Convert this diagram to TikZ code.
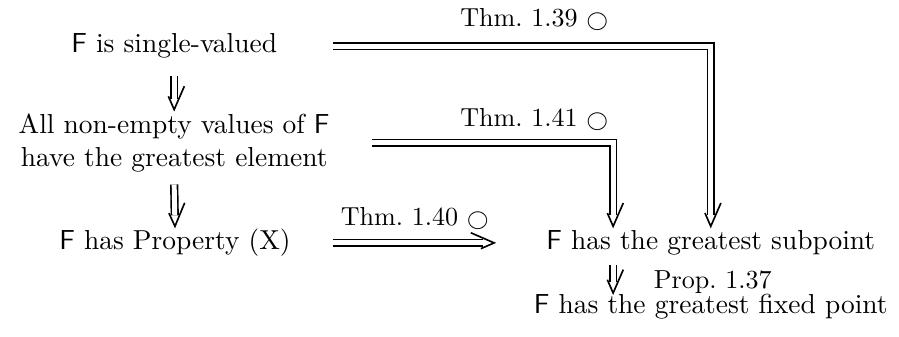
\documentclass[tikz,border=0pt]{standalone}
\usepackage{amsmath,amssymb}
\usetikzlibrary{calc,decorations.markings}
\newcommand{\sF}{\mathsf{F}}
\newcommand{\thmmark}{$\scriptstyle\bigcirc$}

\begin{document}
\begin{tikzpicture}[imp/.style={double, double distance=1.8pt, line width=0.6pt, shorten >=4pt,
    postaction={decorate, decoration={markings, mark=at position 1 with
      {\draw[line width=0.6pt, line join=miter] (-8.5pt,3.7pt) -- (0,0) -- (-8.5pt,-3.7pt);}}}},
  lbl/.style={font=\fontsize{9.5pt}{11pt}\selectfont, inner sep=1pt}]
  \useasboundingbox (0,0) rectangle (11.51,4.31);
  % ---------------------------------------------------------------- left column: what is assumed
  \node (single) at (2.23,3.72) {$\sF$ is single-valued};
  \node[align=center] (nonempty) at (2.23,2.48) {All non-empty values of $\sF$\\ have the greatest element};
  \node (propx) at (2.24,1.20) {$\sF$ has Property (X)};
  % ---------------------------------------------------------------- right column: what follows
  \node (subpoint) at (9.10,1.20) {$\sF$ has the greatest subpoint};
  \node (fixed) at (9.10,0.38) {$\sF$ has the greatest fixed point};
  \coordinate (lane) at (7.85,0);
  % the implications, with where they are proved
  \draw[imp] ([yshift=-3pt]single.south) -- ([yshift=-2pt]nonempty.north);
  \draw[imp] ([yshift=-1pt]nonempty.south) -- ([yshift=-2.5pt]propx.north);
  \draw[imp] ([xshift=17pt]single.east) -| ([yshift=-2pt]subpoint.north);
  \node[lbl] (t39) at (6.84,4.06) {Thm.~1.39 \thmmark};
  \draw[imp] ([xshift=12pt]nonempty.east) -| ($(lane |- subpoint.north)+(0,-2pt)$);
  \node[lbl] (t41) at (6.84,2.78) {Thm.~1.41 \thmmark};
  \draw[imp] ([xshift=12pt]propx.east) -- ([xshift=-15.5pt]subpoint.west);
  \node[lbl] (t40) at (5.31,1.52) {Thm.~1.40 \thmmark};
  \draw[imp] (lane |- subpoint.south) -- ($(lane |- fixed.north)+(0,-3pt)$);
  \node[lbl, anchor=west] (p37) at (8.33,0.70) {Prop.~1.37};
\end{tikzpicture}
\end{document}
